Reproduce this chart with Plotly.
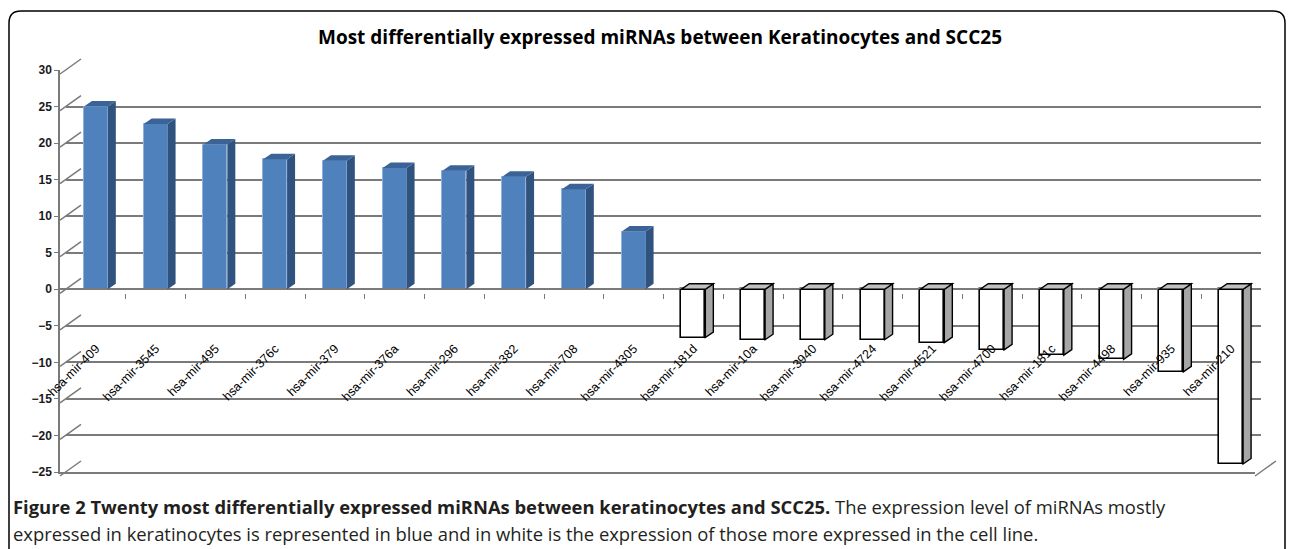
import plotly.graph_objects as go

# ---------------- data ----------------
categories = ["hsa-mir-409", "hsa-mir-3545", "hsa-mir-495", "hsa-mir-376c", "hsa-mir-379",
              "hsa-mir-376a", "hsa-mir-296", "hsa-mir-382", "hsa-mir-708", "hsa-mir-4305",
              "hsa-mir-181d", "hsa-mir-10a", "hsa-mir-3940", "hsa-mir-4724", "hsa-mir-4521",
              "hsa-mir-4700", "hsa-mir-181c", "hsa-mir-4498", "hsa-mir-935", "hsa-mir-210"]
values = [25.0, 22.6, 19.8, 17.8, 17.6, 16.6, 16.2, 15.4, 13.7, 7.9,
          -6.6, -6.9, -6.9, -6.9, -7.3, -8.3, -9.0, -9.6, -11.3, -23.9]
y_ticks = [-25, -20, -15, -10, -5, 0, 5, 10, 15, 20, 25, 30]

title = "Most differentially expressed miRNAs between Keratinocytes and SCC25"
caption_bold = "Figure 2 Twenty most differentially expressed miRNAs between keratinocytes and SCC25."
caption_rest1 = " The expression level of miRNAs mostly"
caption_line2 = "expressed in keratinocytes is represented in blue and in white is the expression of those more expressed in the cell line."

# ---------------- geometry helpers ----------------
W, H = 1290, 549
def fx(px):
    return px / W
def fy(py):
    return 1 - py / H

FX0, FX1 = 60, 1255          # front plane x extent (px)
FY_BOT, FY_TOP = 476, 74     # front plane y for -25 / 30
DEPTH_X, DEPTH_Y = 21, -15   # back wall offset
BAR_DX, BAR_DY = 6, -4       # bar front plane offset
YMIN, YMAX = -25, 30
N = len(categories)
idx = list(range(N))

px_per_unit_y = (FY_BOT - FY_TOP) / (YMAX - YMIN)
px_per_cat = (FX1 - FX0) / N

BAR_W = 0.4
SIDE_DX = 8 / px_per_cat          # bar depth in category units
SIDE_DY = 5.5 / px_per_unit_y     # bar depth in y units

blue = "#4F81BD"
blue_side = "#30527F"
blue_top = "#3B6397"
grid_col = "#7a7a7a"

colors = [blue if v > 0 else "white" for v in values]
line_colors = ["#8fb0db" if v > 0 else "black" for v in values]
line_widths = [1 if v > 0 else 1.6 for v in values]

fig = go.Figure()

# front faces of the bars
fig.add_trace(go.Bar(
    x=idx, y=values, width=BAR_W, xaxis="x", yaxis="y",
    marker=dict(color=colors, line=dict(color=line_colors, width=line_widths)),
    hoverinfo="skip", showlegend=False,
))

shapes = []
# side and top faces computed from the values
for i, v in enumerate(values):
    pos = v > 0
    side_fill = blue_side if pos else "#A6A6A6"
    top_fill = blue_top if pos else "#C0C0C0"
    lc = "rgba(0,0,0,0)" if pos else "black"
    lw = 0 if pos else 1.4
    xr = i + BAR_W / 2
    xl = i - BAR_W / 2
    top = max(v, 0)
    bot = min(v, 0)
    shapes.append(dict(type="path", xref="x", yref="y", layer="above",
                       path=f"M{xr},{bot} L{xr},{top} L{xr+SIDE_DX},{top+SIDE_DY} L{xr+SIDE_DX},{bot+SIDE_DY} Z",
                       fillcolor=side_fill, line=dict(color=lc, width=lw)))
    shapes.append(dict(type="path", xref="x", yref="y", layer="above",
                       path=f"M{xl},{top} L{xr},{top} L{xr+SIDE_DX},{top+SIDE_DY} L{xl+SIDE_DX},{top+SIDE_DY} Z",
                       fillcolor=top_fill, line=dict(color=lc, width=lw)))

# diagonals joining front tick marks to back wall gridlines
for t in y_ticks:
    py = FY_BOT - (t - YMIN) * px_per_unit_y
    shapes.append(dict(type="line", xref="paper", yref="paper", layer="below",
                       x0=fx(FX0), y0=fy(py), x1=fx(FX0 + DEPTH_X), y1=fy(py + DEPTH_Y),
                       line=dict(color=grid_col, width=1.5)))
# floor right edge
shapes.append(dict(type="line", xref="paper", yref="paper", layer="below",
                   x0=fx(FX1), y0=fy(FY_BOT), x1=fx(FX1 + DEPTH_X), y1=fy(FY_BOT + DEPTH_Y),
                   line=dict(color=grid_col, width=1.5)))
# outer rounded frame
r = 12
x0, y0, x1, y1 = 9, 11, 1285, 560
shapes.append(dict(type="path", xref="paper", yref="paper", layer="below",
                   path=(f"M{fx(x0)},{fy(y1)} L{fx(x0)},{fy(y0+r)} Q{fx(x0)},{fy(y0)} {fx(x0+r)},{fy(y0)} "
                         f"L{fx(x1-r)},{fy(y0)} Q{fx(x1)},{fy(y0)} {fx(x1)},{fy(y0+r)} L{fx(x1)},{fy(y1)}"),
                   line=dict(color="black", width=1.5)))

zero_py = FY_BOT - (0 - YMIN) * px_per_unit_y

layout = dict(
    width=W, height=H,
    margin=dict(l=0, r=0, t=0, b=0, autoexpand=False),
    paper_bgcolor="white", plot_bgcolor="rgba(0,0,0,0)",
    showlegend=False,
    bargap=0,
    # bars plane
    xaxis=dict(domain=[fx(FX0 + BAR_DX), fx(FX1 + BAR_DX)], range=[-0.5, N - 0.5],
               visible=False, fixedrange=True, automargin=False),
    yaxis=dict(domain=[fy(FY_BOT + BAR_DY), fy(FY_TOP + BAR_DY)], range=[YMIN, YMAX],
               visible=False, fixedrange=True, anchor="x", automargin=False),
    # front plane: y tick labels, left axis line, floor front line, zero line
    xaxis2=dict(domain=[fx(FX0), fx(FX1)], range=[-0.5, N - 0.5], anchor="y2",
                showline=True, linecolor=grid_col, linewidth=1.5, showgrid=False,
                showticklabels=False, ticks="", zeroline=False, automargin=False),
    yaxis2=dict(domain=[fy(FY_BOT), fy(FY_TOP)], range=[YMIN, YMAX], anchor="x2",
                overlaying="y", tickvals=y_ticks, ticks="outside", ticklen=4,
                tickcolor=grid_col, showline=True, linecolor=grid_col, linewidth=1.5,
                showgrid=False, zeroline=True, zerolinecolor=grid_col, zerolinewidth=1.5,
                automargin=False,
                tickfont=dict(family="Liberation Sans", size=12, color="#1a1a1a", weight="bold")),
    # back wall gridlines
    xaxis3=dict(domain=[fx(FX0 + DEPTH_X), fx(FX1 + DEPTH_X)], range=[-0.5, N - 0.5],
                anchor="y3", overlaying="x", visible=False, automargin=False),
    yaxis3=dict(domain=[fy(FY_BOT + DEPTH_Y), fy(FY_TOP + DEPTH_Y)], range=[YMIN, YMAX],
                anchor="x3", overlaying="y", tickvals=y_ticks, showgrid=True,
                gridcolor=grid_col, gridwidth=1.6, showticklabels=False, ticks="",
                zeroline=False, showline=False, automargin=False),
    # category tick marks at the zero line
    xaxis4=dict(domain=[fx(FX0), fx(FX1)], range=[-0.5, N - 0.5], anchor="free",
                position=fy(zero_py), overlaying="x", side="bottom",
                tickvals=[i + 0.5 for i in range(N - 1)], ticks="outside", ticklen=5,
                tickcolor=grid_col, tickwidth=1.2, showticklabels=False, showline=False,
                showgrid=False, zeroline=False, automargin=False),
    # category labels
    xaxis5=dict(domain=[fx(FX0 + 1), fx(FX1 + 1)], range=[-0.5, N - 0.5], anchor="free",
                position=fy(338), overlaying="x", side="bottom",
                tickvals=idx, ticktext=categories, tickangle=-45, ticks="",
                showline=False, showgrid=False, zeroline=False, automargin=False,
                tickfont=dict(family="Liberation Sans", size=12.5, color="black")),
    title=dict(text=f"<b>{title}</b>", x=fx(660), xanchor="center", y=fy(37), yanchor="middle",
               automargin=False,
               font=dict(family="Open Sans", size=19, color="black")),
    shapes=shapes,
    annotations=[
        dict(text=f"<b>{caption_bold}</b>{caption_rest1}", xref="paper", yref="paper",
             x=fx(11), y=fy(506), xanchor="left", yanchor="middle", showarrow=False,
             font=dict(family="Open Sans", size=18.4, color="#231f20")),
        dict(text=caption_line2, xref="paper", yref="paper",
             x=fx(11), y=fy(533), xanchor="left", yanchor="middle", showarrow=False,
             font=dict(family="Open Sans", size=18.4, color="#231f20")),
    ],
)
fig.update_layout(**layout)

# invisible traces to activate the extra axes
for xa, ya in [("x2", "y2"), ("x3", "y3"), ("x4", "y2"), ("x5", "y2")]:
    fig.add_trace(go.Scatter(x=[None], y=[None], xaxis=xa, yaxis=ya, showlegend=False, hoverinfo="skip"))

fig.write_html("out.html", config={"displayModeBar": False},
               post_script="document.body.style.margin='0';document.body.style.overflow='hidden';")
